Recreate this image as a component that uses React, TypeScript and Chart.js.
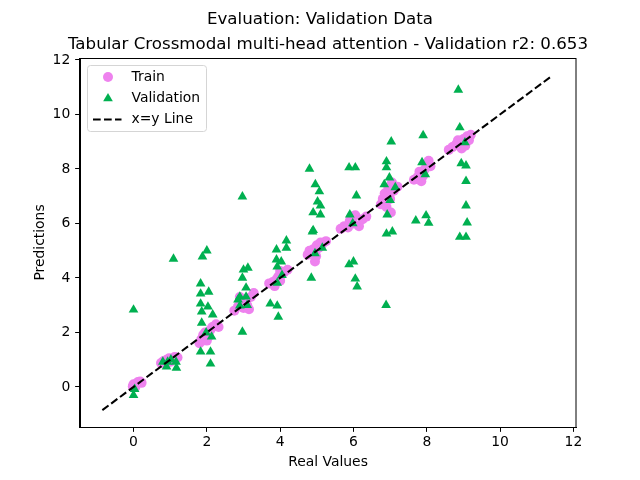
import React, { useEffect, useRef } from "react";
import { Chart, registerables } from "chart.js";

Chart.register(...registerables);

// ---------- data ----------
const SUPTITLE = "Evaluation: Validation Data";
const AXES_TITLE = "Tabular Crossmodal multi-head attention - Validation r2: 0.653";
const X_LABEL = "Real Values";
const Y_LABEL = "Predictions";
const X_TICKS = [0, 2, 4, 6, 8, 10, 12];
const Y_TICKS = [0, 2, 4, 6, 8, 10, 12];
const LEGEND_LABELS = ["Train", "Validation", "x=y Line"];
const LINE_ENDS = [-0.85, 11.4];

const trainReal = [
  -0.02, 0.03, 0.08, 0.12, 0.18, 0.05, 0.22, 0.0,
  0.75, 0.82, 0.9, 0.97, 1.05, 1.12, 1.2, 1.0, 0.88,
  1.8, 1.85, 1.9, 1.95, 2.05, 2.1, 2.15, 2.25, 2.32, 2.0, 1.88,
  2.75, 2.85, 2.95, 3.0, 3.05, 3.1, 3.2, 3.28, 2.9, 3.15,
  3.7, 3.8, 3.9, 3.95, 4.0, 4.05, 4.1, 4.2, 3.85, 4.0,
  4.75, 4.8, 4.9, 4.95, 5.0, 5.05, 5.15, 5.25, 4.98, 5.1,
  5.65, 5.75, 5.85, 5.9, 6.0, 6.05, 6.15, 6.25, 6.35, 5.95,
  6.75, 6.8, 6.85, 6.9, 6.95, 7.0, 7.02, 7.05, 7.1, 7.2, 6.9,
  7.65, 7.75, 7.8, 7.9, 7.95, 8.0, 8.05, 8.1, 7.85,
  8.6, 8.7, 8.8, 8.9, 8.95, 9.0, 9.05, 9.1, 9.15, 9.2, 8.85,
];
const trainPred = [
  0.02, 0.08, 0.12, 0.18, 0.2, 0.0, 0.15, 0.1,
  0.88, 0.95, 1.0, 1.05, 1.02, 1.1, 1.08, 0.92, 0.85,
  1.6, 1.75, 1.9, 2.0, 1.85, 2.1, 2.2, 2.3, 2.2, 1.7, 1.7,
  2.8, 2.95, 3.1, 2.9, 3.2, 3.0, 3.3, 3.45, 3.3, 2.85,
  3.8, 3.85, 3.95, 4.05, 3.9, 4.15, 4.2, 4.3, 3.7, 4.25,
  4.85, 5.0, 5.05, 4.6, 5.2, 5.1, 5.25, 5.35, 4.8, 5.3,
  5.8, 5.9, 5.85, 6.1, 6.0, 6.3, 5.9, 6.15, 6.25, 6.25,
  6.7, 6.9, 7.1, 6.6, 7.3, 6.9, 6.4, 7.5, 7.2, 7.35, 7.0,
  7.6, 7.7, 7.9, 7.75, 8.0, 8.2, 8.3, 8.1, 7.55,
  8.7, 8.8, 8.9, 9.0, 8.75, 9.1, 8.85, 9.2, 9.05, 9.25, 9.05,
];

const valReal = [
  0.0, 0.03, 0.0,
  0.8, 0.93, 1.16, 0.9, 1.17, 1.09, 1.02,
  1.88, 2.0, 1.83, 1.83, 2.05, 1.83, 2.03, 1.86, 2.16, 1.86, 1.98, 2.13, 1.83, 2.1, 2.1,
  2.97, 3.0, 3.12, 2.97, 3.07, 2.9, 3.07, 2.9, 3.1, 2.97, 2.85,
  3.9, 4.17, 4.17, 3.9, 4.03, 3.92, 4.05, 3.92, 3.73, 3.92, 3.95,
  4.8, 4.96, 5.07, 5.02, 5.1, 4.9, 5.1, 4.88, 4.95, 5.15, 4.85, 4.9,
  5.9, 6.08, 5.88, 6.05, 5.98, 5.88, 6.0, 6.05, 6.1,
  7.03, 6.9, 6.9, 6.98, 6.84, 7.14, 6.92, 6.9, 7.06, 6.89, 7.0,
  7.9, 7.87, 7.96, 7.7, 7.98, 8.05,
  8.86, 8.9, 9.04, 8.94, 9.07, 9.07, 9.07, 9.1, 8.9, 9.07,
];
const valPred = [
  2.83, -0.08, -0.3,
  0.92, 0.92, 0.92, 0.74, 0.7, 4.7, 1.0,
  4.78, 5.0, 3.79, 3.42, 3.49, 3.05, 2.94, 2.76, 2.65, 2.35, 1.99, 1.84, 1.29, 1.29, 0.85,
  6.98, 4.3, 4.37, 4.0, 3.64, 3.31, 3.31, 2.98, 3.0, 2.02, 3.2,
  5.04, 5.37, 5.1, 4.67, 4.6, 4.41, 4.1, 3.82, 3.05, 2.98, 2.57,
  8.0, 7.43, 7.17, 6.8, 6.65, 6.4, 6.32, 5.7, 4.9, 5.1, 4.0, 5.75,
  6.32, 7.02, 8.05, 8.05, 6.0, 4.49, 4.6, 3.97, 3.68,
  9.0, 8.27, 8.05, 7.68, 7.43, 7.32, 6.32, 5.62, 5.7, 3.0, 6.85,
  9.23, 8.24, 7.8, 6.1, 6.29, 6.02,
  10.9, 9.52, 8.97, 8.2, 8.12, 7.55, 6.65, 6.03, 5.5, 5.5,
];

// ---------- styles ----------
const FONT = "'DejaVu Sans', sans-serif";
const TRAIN_COLOR = "#EE82EE";
const VAL_COLOR = "#00B050";
const TRAIN_R = 5;
const VAL_R = 5.6;
const LINE_W = 2.08;
const LINE_DASH = [7.7, 3.3];

function drawTriangle(ctx: CanvasRenderingContext2D, x: number, y: number, r: number) {
  ctx.beginPath();
  ctx.moveTo(x, y - r);
  ctx.lineTo(x - r * 0.866, y + r * 0.5);
  ctx.lineTo(x + r * 0.866, y + r * 0.5);
  ctx.closePath();
  ctx.fill();
}

const framePlugin = {
  id: "frameTitlesLegend",
  afterDraw(chart: any) {
    const { ctx, chartArea, width } = chart;
    const { left, top, right, bottom } = chartArea;
    ctx.save();

    // titles
    ctx.fillStyle = "#000";
    ctx.textAlign = "center";
    ctx.textBaseline = "alphabetic";
    ctx.font = `16.67px ${FONT}`;
    ctx.fillText(SUPTITLE, width / 2, 24);
    ctx.fillText(AXES_TITLE, (left + right) / 2, 49);

    // full box
    ctx.strokeStyle = "#000";
    ctx.lineWidth = 1;
    ctx.strokeRect(Math.round(left) - 0.5, Math.round(top) + 0.5, Math.round(right - left) + 0.5, Math.round(bottom - top));

    // legend
    const x0 = left + 7.5;
    const y0 = top + 7.5;
    const w = 119;
    const h = 66;
    ctx.beginPath();
    (ctx as any).roundRect(x0, y0, w, h, 3);
    ctx.fillStyle = "rgba(255,255,255,0.8)";
    ctx.fill();
    ctx.strokeStyle = "#d5d5d5";
    ctx.lineWidth = 1;
    ctx.stroke();

    const mx = x0 + 20.5;
    ctx.fillStyle = TRAIN_COLOR;
    ctx.beginPath();
    ctx.arc(mx, y0 + 11.5, TRAIN_R, 0, Math.PI * 2);
    ctx.fill();
    ctx.fillStyle = VAL_COLOR;
    drawTriangle(ctx, mx, y0 + 33, VAL_R);
    ctx.strokeStyle = "#000";
    ctx.lineWidth = LINE_W;
    ctx.setLineDash(LINE_DASH);
    ctx.beginPath();
    ctx.moveTo(x0 + 5.5, y0 + 54);
    ctx.lineTo(x0 + 34, y0 + 54);
    ctx.stroke();
    ctx.setLineDash([]);

    ctx.fillStyle = "#000";
    ctx.font = `13.9px ${FONT}`;
    ctx.textBaseline = "alphabetic";
    ctx.textAlign = "left";
    const baselines = [y0 + 15.8, y0 + 36.8, y0 + 57.8];
    LEGEND_LABELS.forEach((t, i) => ctx.fillText(t, x0 + 44, baselines[i]));
    ctx.restore();
  },
};

export default function App() {
  const ref = useRef<HTMLCanvasElement | null>(null);

  useEffect(() => {
    if (!ref.current) return;
    const trainPts = trainReal.map((x, i) => ({ x, y: trainPred[i] }));
    const valPts = valReal.map((x, i) => ({ x, y: valPred[i] }));
    const linePts = LINE_ENDS.map((v) => ({ x: v, y: v }));

    const tickFont = { family: FONT, size: 13.9 };
    const chart = new Chart(ref.current, {
      type: "scatter",
      data: {
        datasets: [
          {
            type: "line",
            label: LEGEND_LABELS[2],
            data: linePts,
            borderColor: "#000",
            borderWidth: LINE_W,
            borderDash: LINE_DASH,
            pointRadius: 0,
            fill: false,
          } as any,
          {
            label: LEGEND_LABELS[1],
            data: valPts,
            pointStyle: "triangle",
            pointRadius: VAL_R,
            backgroundColor: VAL_COLOR,
            borderWidth: 0,
          },
          {
            label: LEGEND_LABELS[0],
            data: trainPts,
            pointStyle: "circle",
            pointRadius: TRAIN_R,
            backgroundColor: TRAIN_COLOR,
            borderWidth: 0,
          },
        ],
      },
      options: {
        animation: false,
        responsive: false,
        maintainAspectRatio: false,
        devicePixelRatio: 1,
        layout: { padding: { left: 0, right: 64, top: 58, bottom: 0 } },
        plugins: {
          legend: { display: false },
          tooltip: { enabled: false },
          title: { display: false },
        },
        scales: {
          x: {
            type: "linear",
            min: -1.46,
            max: 12.07,
            afterBuildTicks: (s: any) => {
              s.ticks = X_TICKS.map((v) => ({ value: v }));
            },
            afterFit: (s: any) => {
              s.height = 53;
            },
            ticks: { color: "#000", font: tickFont, padding: 2.6, maxRotation: 0, callback: (v: any) => String(v) },
            grid: { drawOnChartArea: false, drawTicks: true, tickLength: 4.86, tickColor: "#000", tickWidth: 1 },
            border: { display: true, color: "#000", width: 1 },
            title: { display: true, text: X_LABEL, color: "#000", font: { family: FONT, size: 13.9, lineHeight: 1.2 }, padding: { top: 0, bottom: 9.7 } },
          },
          y: {
            type: "linear",
            min: -1.47,
            max: 12.07,
            afterBuildTicks: (s: any) => {
              s.ticks = Y_TICKS.map((v) => ({ value: v }));
            },
            afterFit: (s: any) => {
              s.width = 80;
            },
            ticks: { color: "#000", font: tickFont, padding: 4.9, callback: (v: any) => String(v) },
            grid: { drawOnChartArea: false, drawTicks: true, tickLength: 4.86, tickColor: "#000", tickWidth: 1 },
            border: { display: true, color: "#000", width: 1 },
            title: { display: true, text: Y_LABEL, color: "#000", font: { family: FONT, size: 13.9, lineHeight: 1.2 }, padding: { top: 31.7, bottom: 0 } },
          },
        },
      },
      plugins: [framePlugin],
    });
    return () => chart.destroy();
  }, []);

  return (
    <div style={{ position: "fixed", left: 0, top: 0, width: 640, height: 480, background: "#fff" }}>
      <canvas ref={ref} width={640} height={480} style={{ width: 640, height: 480 }} />
    </div>
  );
}
